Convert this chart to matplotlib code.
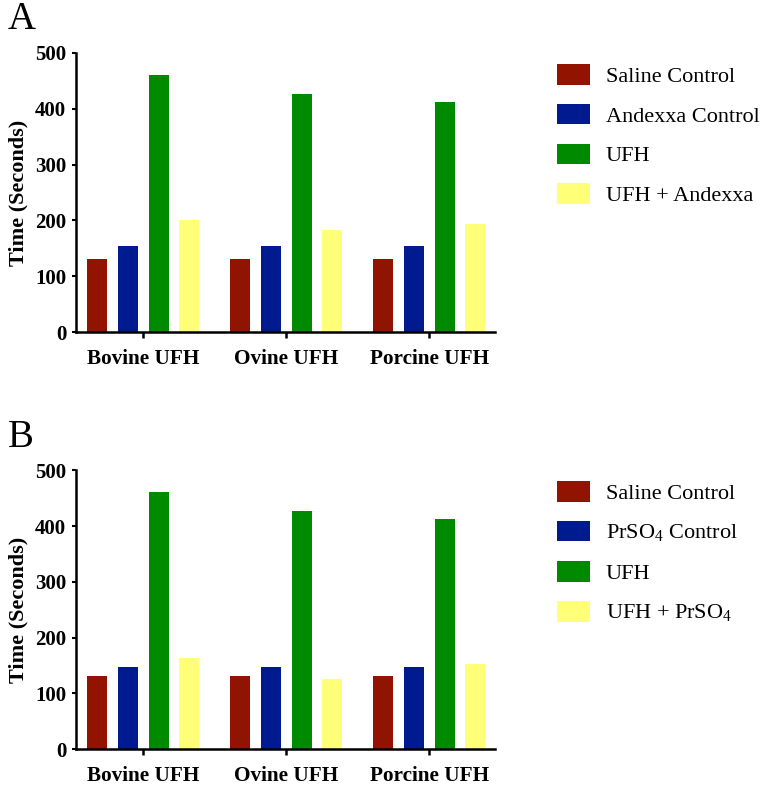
import numpy as np
import matplotlib
matplotlib.use('Agg')
import matplotlib.pyplot as plt
from matplotlib.patches import Patch

plt.rcParams['font.family'] = 'Liberation Serif'
plt.rcParams['mathtext.fontset'] = 'custom'
plt.rcParams['mathtext.rm'] = 'Liberation Serif'

# data
groups = ['Bovine UFH', 'Ovine UFH', 'Porcine UFH']
colors = ['#921300', '#001A8F', '#008A00', '#FFFF78']

labels_a = ['Saline Control', 'Andexxa Control', 'UFH', 'UFH + Andexxa']
saline_a = [131, 131, 130]
andexxa_ctrl = [155, 155, 155]
ufh_a = [460, 427, 412]
ufh_andexxa = [200, 183, 193]

labels_b = ['Saline Control', r'PrSO$_\mathrm{4}$ Control', 'UFH', r'UFH + PrSO$_\mathrm{4}$']
saline_b = [131, 131, 131]
prso4_ctrl = [148, 148, 148]
ufh_b = [461, 427, 412]
ufh_prso4 = [163, 126, 153]

yticks = [0, 100, 200, 300, 400, 500]

fig = plt.figure(figsize=(7.62, 7.85), dpi=100)
ax_a = fig.add_axes([0.0997, 0.577, 0.55, 0.3555])
ax_b = fig.add_axes([0.0997, 0.0455, 0.55, 0.3555])

x = np.arange(len(groups))
pitch = 0.215
width = 0.14


def draw_panel(ax, series, labels, letter, letter_base, leg_top):
    for i, vals in enumerate(series):
        ax.bar(x + (i - 1.5) * pitch, vals, width, color=colors[i])
    ax.set_xlim(-0.47, 2.46)
    ax.set_ylim(0, 500)
    ax.set_yticks(yticks)
    ax.set_xticks(x)
    ax.set_xticklabels(groups, fontsize=15.3, fontweight='bold')
    ax.set_yticklabels([str(v) for v in yticks], fontsize=15, fontweight='bold')
    ax.set_ylabel('Time (Seconds)', fontsize=16, fontweight='bold', labelpad=5)
    for s in ['top', 'right']:
        ax.spines[s].set_visible(False)
    for s in ['left', 'bottom']:
        ax.spines[s].set_linewidth(1.8)
    ax.tick_params(axis='y', length=3, width=1.5, pad=4)
    ax.tick_params(axis='x', length=4, width=1.8, pad=8)
    handles = [Patch(facecolor=c, edgecolor='none') for c in colors]
    fig.legend(handles, labels, loc='upper left', bbox_to_anchor=(0.731, leg_top),
               frameon=False, fontsize=16, handlelength=1.5, handleheight=1.05,
               handletextpad=0.7, labelspacing=0.76, borderpad=0, borderaxespad=0)
    fig.text(0.01, letter_base, letter, fontsize=28, va='baseline', ha='left')


draw_panel(ax_a, [saline_a, andexxa_ctrl, ufh_a, ufh_andexxa], labels_a, 'A',
           1 - 29 / 785, 1 - 64 / 785)
draw_panel(ax_b, [saline_b, prso4_ctrl, ufh_b, ufh_prso4], labels_b, 'B',
           1 - 447 / 785, 1 - 481 / 785)

fig.savefig('out.png', dpi=100)
